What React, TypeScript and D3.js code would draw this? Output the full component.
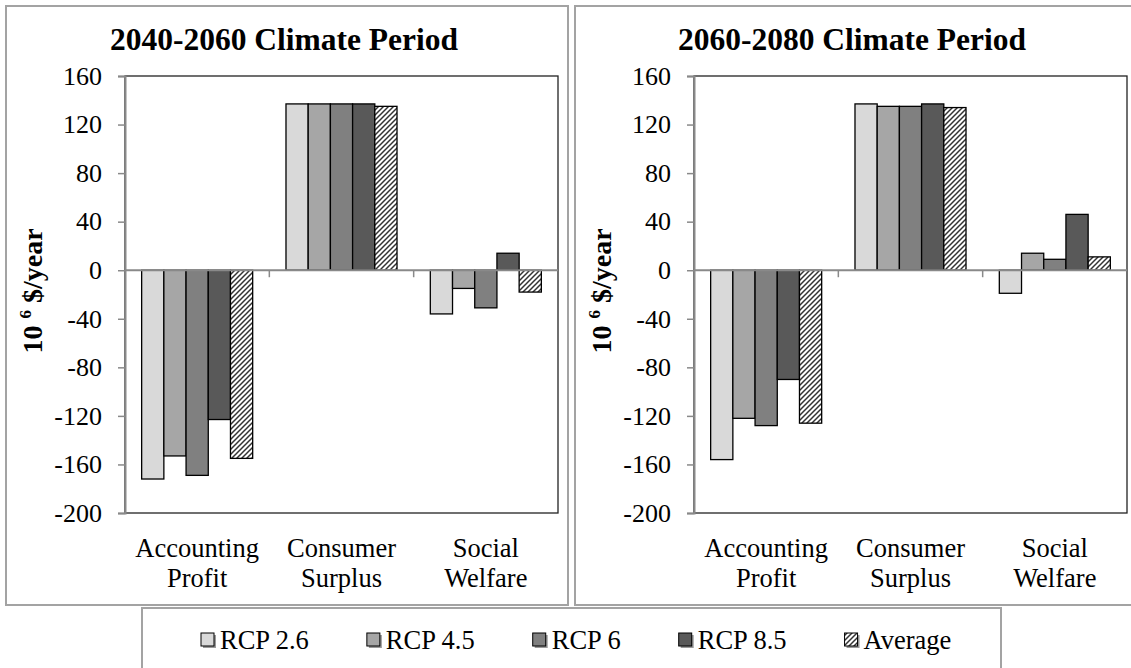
import React, { useEffect, useRef } from "react";
import * as d3 from "d3";

const categories = ["Accounting Profit", "Consumer Surplus", "Social Welfare"];
const categoryLines = [["Accounting", "Profit"], ["Consumer", "Surplus"], ["Social", "Welfare"]];
const seriesNames = ["RCP 2.6", "RCP 4.5", "RCP 6", "RCP 8.5", "Average"];
const seriesFills = ["#d9d9d9", "#a6a6a6", "#808080", "#595959", "url(#hatch)"];
const periods = ["2040-2060 Climate Period", "2060-2080 Climate Period"];

// values per series: [Accounting Profit, Consumer Surplus, Social Welfare]
const rcp26_2040 = [-172, 137, -36];
const rcp45_2040 = [-153, 137, -15];
const rcp6_2040 = [-169, 137, -31];
const rcp85_2040 = [-123, 137, 14];
const avg_2040 = [-155, 135, -18];

const rcp26_2060 = [-156, 137, -19];
const rcp45_2060 = [-122, 135, 14];
const rcp6_2060 = [-128, 135, 9];
const rcp85_2060 = [-90, 137, 46];
const avg_2060 = [-126, 134, 11];

const yTicks = [160, 120, 80, 40, 0, -40, -80, -120, -160, -200];
const yDomain = [-200, 160];

const panelValues = [
  [rcp26_2040, rcp45_2040, rcp6_2040, rcp85_2040, avg_2040],
  [rcp26_2060, rcp45_2060, rcp6_2060, rcp85_2060, avg_2060],
];

const W = 1131;
const H = 668;
const FONT = "Liberation Serif, serif";

export default function App() {
  const ref = useRef<SVGSVGElement | null>(null);

  useEffect(() => {
    const svg = d3.select(ref.current);
    svg.selectAll("*").remove();

    const defs = svg.append("defs");
    const pat = defs
      .append("pattern")
      .attr("id", "hatch")
      .attr("patternUnits", "userSpaceOnUse")
      .attr("width", 5)
      .attr("height", 5);
    pat.append("rect").attr("width", 5).attr("height", 5).attr("fill", "#fff");
    pat
      .append("path")
      .attr("d", "M-1,1 L1,-1 M0,5 L5,0 M4,6 L6,4")
      .attr("stroke", "#333")
      .attr("stroke-width", 1.5);

    svg.append("rect").attr("width", W).attr("height", H).attr("fill", "#fff");

    const panelBoxes = [
      { x: 6, y: 6, w: 562, h: 599, plotX: 125, title: 284 },
      { x: 575, y: 6, w: 570, h: 599, plotX: 694, title: 852 },
    ];
    const plotW = 433;
    const y = d3.scaleLinear().domain(yDomain).range([513, 76]);

    panelBoxes.forEach((pb, p) => {
      const g = svg.append("g");
      g.append("rect")
        .attr("x", pb.x)
        .attr("y", pb.y)
        .attr("width", pb.w)
        .attr("height", pb.h)
        .attr("fill", "#fff")
        .attr("stroke", "#a3a3a3")
        .attr("stroke-width", 2);

      g.append("text")
        .attr("x", pb.title)
        .attr("y", 50)
        .attr("text-anchor", "middle")
        .attr("font-family", FONT)
        .attr("font-weight", "bold")
        .attr("font-size", 31.5)
        .text(periods[p]);

      const x0 = d3.scaleBand<string>().domain(categories).range([pb.plotX, pb.plotX + plotW]).padding(0);
      const x1 = d3
        .scaleBand<string>()
        .domain(seriesNames)
        .range([0, x0.bandwidth()])
        .paddingInner(0)
        .paddingOuter(0.75);

      const vals = panelValues[p];
      seriesNames.forEach((s, si) => {
        g.selectAll(null)
          .data(vals[si])
          .enter()
          .append("rect")
          .attr("x", (_d, ci) => (x0(categories[ci]) as number) + (x1(s) as number))
          .attr("y", (d) => y(Math.max(0, d)))
          .attr("width", x1.bandwidth())
          .attr("height", (d) => Math.abs(y(d) - y(0)))
          .attr("fill", seriesFills[si])
          .attr("stroke", "#000")
          .attr("stroke-width", 1.3);
      });

      // plot border
      g.append("rect")
        .attr("x", pb.plotX)
        .attr("y", y(160))
        .attr("width", plotW)
        .attr("height", y(-200) - y(160))
        .attr("fill", "none")
        .attr("stroke", "#222")
        .attr("stroke-width", 1.3);

      // zero line
      g.append("line")
        .attr("x1", pb.plotX)
        .attr("x2", pb.plotX + plotW)
        .attr("y1", y(0))
        .attr("y2", y(0))
        .attr("stroke", "#898989")
        .attr("stroke-width", 2);

      // category ticks
      categories.slice(1).forEach((c) => {
        g.append("line")
          .attr("x1", x0(c) as number)
          .attr("x2", x0(c) as number)
          .attr("y1", y(0))
          .attr("y2", y(0) + 7)
          .attr("stroke", "#898989")
          .attr("stroke-width", 1.5);
      });

      // category labels
      categoryLines.forEach((lines, ci) => {
        const cx = (x0(categories[ci]) as number) + x0.bandwidth() / 2;
        lines.forEach((ln, li) => {
          g.append("text")
            .attr("x", cx)
            .attr("y", 557 + li * 30)
            .attr("text-anchor", "middle")
            .attr("font-family", FONT)
            .attr("font-size", 26.5)
            .text(ln);
        });
      });

      // y axis
      const ax = g
        .append("g")
        .attr("transform", `translate(${pb.plotX},0)`)
        .call(
          d3
            .axisLeft(y)
            .tickValues(yTicks)
            .tickSize(7)
            .tickPadding(16)
            .tickFormat((d) => String(d))
        );
      ax.attr("font-family", FONT).attr("font-size", 26);
      ax.select(".domain").attr("stroke", "#898989").attr("stroke-width", 2);
      ax.selectAll(".tick line").attr("stroke", "#898989").attr("stroke-width", 1.5);
      ax.selectAll(".tick text").attr("fill", "#000");

      // y label
      const yl = g
        .append("text")
        .attr("transform", `translate(${pb.x + 36},291) rotate(-90)`)
        .attr("text-anchor", "middle")
        .attr("font-family", FONT)
        .attr("font-weight", "bold")
        .attr("font-size", 28);
      yl.append("tspan").text("10 ");
      yl.append("tspan").attr("font-size", 17).attr("dy", -11).text("6");
      yl.append("tspan").attr("dy", 11).text(" $/year");
    });

    // legend
    const lg = svg.append("g");
    lg.append("rect")
      .attr("x", 142)
      .attr("y", 608)
      .attr("width", 859)
      .attr("height", 80)
      .attr("fill", "#fff")
      .attr("stroke", "#a3a3a3")
      .attr("stroke-width", 2);
    let lx = 201;
    seriesNames.forEach((s, si) => {
      lg.append("rect")
        .attr("x", lx + 2)
        .attr("y", 635)
        .attr("width", 13)
        .attr("height", 13)
        .attr("fill", "#9a9a9a");
      lg.append("rect")
        .attr("x", lx)
        .attr("y", 633)
        .attr("width", 13)
        .attr("height", 13)
        .attr("fill", seriesFills[si])
        .attr("stroke", "#000")
        .attr("stroke-width", 1);
      const t = lg
        .append("text")
        .attr("x", lx + 19)
        .attr("y", 649)
        .attr("font-family", FONT)
        .attr("font-size", 26.5)
        .text(s);
      const tw = (t.node() as SVGTextElement).getComputedTextLength();
      lx = lx + 19 + tw + 58;
    });
  }, []);

  return (
    <svg
      ref={ref}
      width={W}
      height={H}
      style={{ position: "absolute", left: 0, top: 0, display: "block" }}
    />
  );
}
